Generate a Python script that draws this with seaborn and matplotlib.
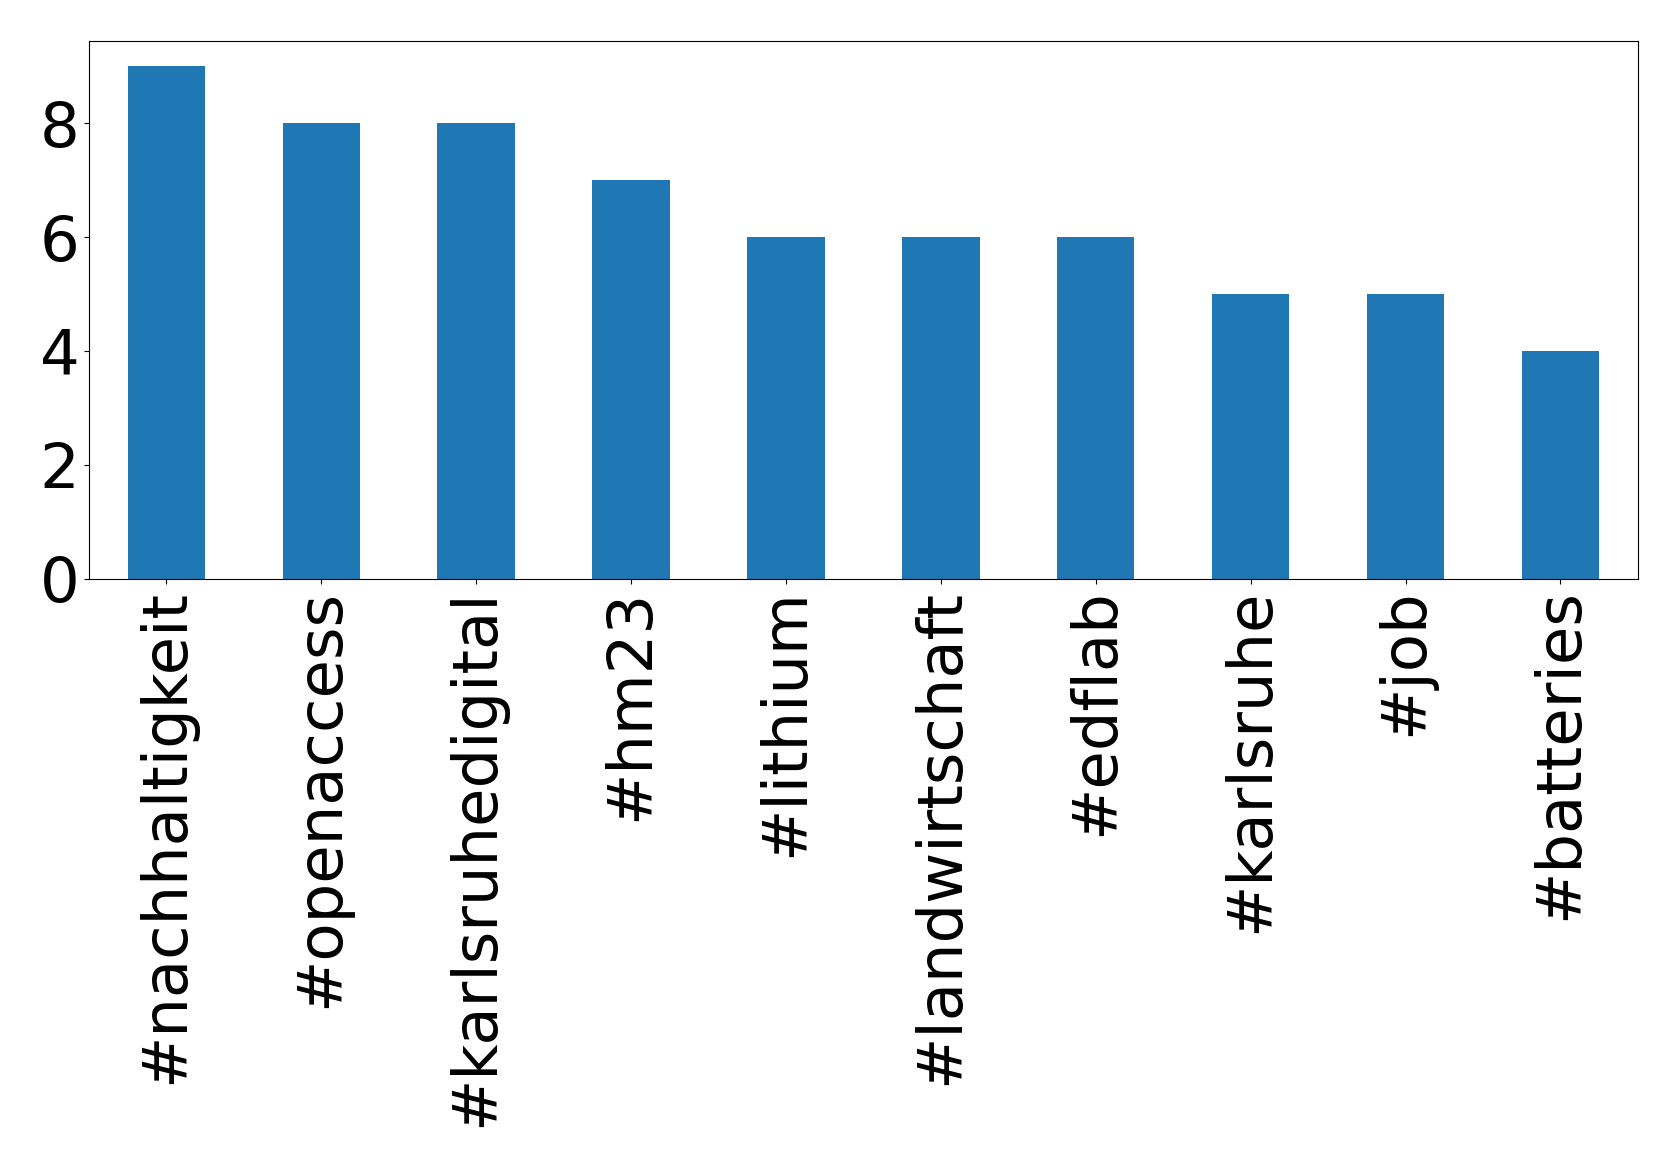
import numpy as np
import pandas as pd
import seaborn as sns
import matplotlib.pyplot as plt

# hashtag counts
hashtags = ['#nachhaltigkeit', '#openaccess', '#karlsruhedigital', '#hm23', '#lithium',
            '#landwirtschaft', '#edflab', '#karlsruhe', '#job', '#batteries']
counts = [9, 8, 8, 7, 6, 6, 6, 5, 5, 4]

df = pd.DataFrame({'hashtag': hashtags, 'count': counts})

fig = plt.figure(figsize=(16.79, 11.67), dpi=100)
ax = fig.add_axes([0.053, 0.504, 0.9225, 0.461])
sns.barplot(data=df, x='hashtag', y='count', color='#1f77b4', saturation=1, width=0.5, ax=ax)
ax.set_xlim(-0.5, len(hashtags) - 0.5)
ax.set_ylim(0, 9.45)
ax.set_yticks([0, 2, 4, 6, 8])
ax.set_xlabel('')
ax.set_ylabel('')
ax.tick_params(axis='both', labelsize=45)
ax.tick_params(axis='x', labelrotation=90)
fig.savefig('out.png', dpi=100)
